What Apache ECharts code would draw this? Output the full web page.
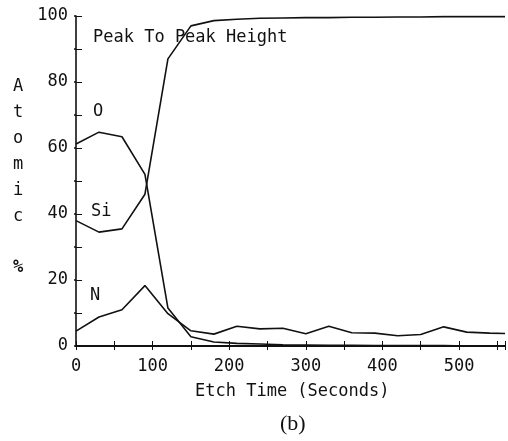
<!DOCTYPE html>
<html>
<head>
<meta charset="utf-8">
<script src="https://cdn.jsdelivr.net/npm/echarts@6/dist/echarts.min.js"></script>
<style>
  html, body { margin: 0; padding: 0; background: #fff; }
  #chart { width: 508px; height: 441px; }
</style>
</head>
<body>
<div id="chart"></div>
<script>
// etch time samples (seconds)
var times = [0, 30, 60, 90, 120, 150, 180, 210, 240, 270, 300, 330, 360, 390, 420, 450, 480, 510, 540, 560];
var siVals = [38, 34.5, 35.5, 46, 87, 97, 98.6, 99, 99.3, 99.4, 99.5, 99.5, 99.6, 99.6, 99.7, 99.7, 99.8, 99.8, 99.8, 99.8];
var oVals = [61.2, 64.8, 63.4, 52, 11.5, 2.8, 1.2, 0.8, 0.6, 0.4, 0.3, 0.2, 0.2, 0.1, 0.1, 0.1, 0.1, 0, 0, 0];
var nVals = [4.5, 8.8, 11, 18.3, 9.8, 4.6, 3.6, 6, 5.2, 5.4, 3.7, 6, 4, 3.9, 3.1, 3.5, 5.8, 4.2, 3.9, 3.8];
var yTicks = [0, 20, 40, 60, 80, 100];
var xTicks = [0, 100, 200, 300, 400, 500];

var mono = 'DejaVu Sans Mono';

function pairs(vals) {
    return times.map(function (t, i) { return [t, vals[i]]; });
}

var chart = echarts.init(document.getElementById('chart'));

var lineStyle = { color: '#111', width: 1.6 };

var option = {
    backgroundColor: '#fff',
    animation: false,
    grid: { left: 76, right: 2, top: 16, bottom: 95 },
    xAxis: [
        {
            type: 'value', min: 0, max: 560, interval: 50,
            axisLine: { lineStyle: { color: '#111', width: 1.6 } },
            axisTick: { inside: true, length: 5, lineStyle: { color: '#111' } },
            axisLabel: {
                margin: 12, color: '#111', fontFamily: mono, fontSize: 17,
                formatter: function (v) { return xTicks.indexOf(v) >= 0 ? v : ''; }
            },
            splitLine: { show: false }
        },
        {
            type: 'value', position: 'top', min: 0, max: 560, interval: 50,
            axisLine: { show: true, lineStyle: { color: '#111', width: 1.8 } },
            axisTick: { show: true, inside: true, length: 4, lineStyle: { color: '#111' } },
            axisLabel: { show: false },
            splitLine: { show: false }
        }
    ],
    yAxis: [
        {
            type: 'value', min: 0, max: 100, interval: 10,
            axisLine: { show: true, lineStyle: { color: '#111', width: 1.6 } },
            axisTick: { show: true, inside: true, length: 6, lineStyle: { color: '#111' } },
            axisLabel: {
                margin: 8, color: '#111', fontFamily: mono, fontSize: 17,
                formatter: function (v) { return yTicks.indexOf(v) >= 0 ? v : ''; }
            },
            splitLine: { show: false }
        },
        {
            type: 'value', position: 'right', min: 0, max: 100, interval: 10,
            axisLine: { show: false },
            axisTick: { show: true, inside: true, length: 2, lineStyle: { color: '#111', width: 1.5 } },
            axisLabel: { show: false },
            splitLine: { show: false }
        }
    ],
    series: [
        { name: 'Si', type: 'line', data: pairs(siVals), symbol: 'none', lineStyle: lineStyle, clip: true },
        { name: 'O', type: 'line', data: pairs(oVals), symbol: 'none', lineStyle: lineStyle, clip: true },
        { name: 'N', type: 'line', data: pairs(nVals), symbol: 'none', lineStyle: lineStyle, clip: true }
    ],
    graphic: [
        { type: 'text', left: 93, top: 29, style: { text: 'Peak To Peak Height', font: '17px ' + mono, fill: '#111' } },
        { type: 'text', left: 93, top: 103, style: { text: 'O', font: '17px ' + mono, fill: '#111' } },
        { type: 'text', left: 91, top: 203, style: { text: 'Si', font: '17px ' + mono, fill: '#111' } },
        { type: 'text', left: 90, top: 287, style: { text: 'N', font: '17px ' + mono, fill: '#111' } },
        { type: 'text', left: 13, top: 74, style: { text: 'A\nt\no\nm\ni\nc', font: '17px ' + mono, lineHeight: 26, fill: '#111' } },
        { type: 'text', left: 13, top: 259, style: { text: '%', font: 'bold 17px ' + mono, fill: '#111' } },
        { type: 'text', left: 195, top: 383, style: { text: 'Etch Time (Seconds)', font: '17px ' + mono, fill: '#111' } },
        { type: 'text', left: 280, top: 413, style: { text: '(b)', font: '22px "Liberation Serif"', fill: '#111' } }
    ]
};

chart.setOption(option);
</script>
</body>
</html>
